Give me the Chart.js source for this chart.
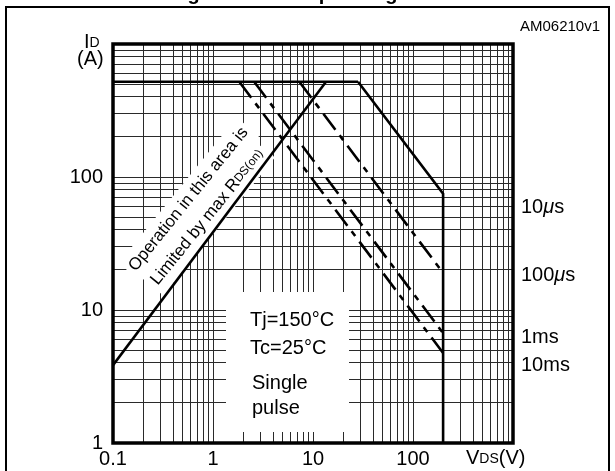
<!DOCTYPE html>
<html>
<head>
<meta charset="utf-8">
<script src="https://cdn.jsdelivr.net/npm/chart.js@4/dist/chart.umd.min.js"></script>
<style>
  html, body { margin: 0; padding: 0; background: #fff; }
  #wrap { position: relative; width: 615px; height: 471px; }
</style>
</head>
<body>
<div id="wrap"><canvas id="soa" width="615" height="471"></canvas></div>
<script>
// Safe operating area: drain current vs drain-source voltage, log-log.

// Axis decades and the minor steps inside each decade (grid lines)
const xDecades = [0.1, 1, 10, 100];
const yDecades = [1, 10, 100];
const minorSteps = [1, 2, 3, 4, 5, 6, 7, 8, 9];
const xLabelValues = [0.1, 1, 10, 100];
const xLabelTexts = ['0.1', '1', '10', '100'];
const yLabelValues = [1, 10, 100];
const yLabelTexts = ['1', '10', '100'];

// Boundary lines (V, A)
const vRdsLimit = [0.1, 13.5];
const iRdsLimit = [3.85, 520];
const vCurrentLimit = [0.1, 28.2];
const iCurrentLimit = [520, 520];
const v10us = [28.2, 200, 200];
const i10us = [520, 75, 1];
const v100us = [7.3, 200];
const i100us = [520, 19];
const v1ms = [2.58, 200];
const i1ms = [520, 6.7];
const v10ms = [1.83, 200];
const i10ms = [520, 4.75];

const FONT = "'Liberation Sans', Arial, Helvetica, sans-serif";
Chart.defaults.font.family = FONT;
Chart.defaults.color = '#000';

function gridValues(decades, top) {
  const out = [];
  decades.forEach(d => minorSteps.forEach(m => out.push(+(d * m).toPrecision(6))));
  out.push(top);
  return out;
}
const xGrid = gridValues(xDecades, 1000);
const yGrid = gridValues(yDecades, 1000);

function labelFor(value, values, texts) {
  for (let k = 0; k < values.length; k++) {
    if (Math.abs(Math.log10(value) - Math.log10(values[k])) < 1e-6) return texts[k];
  }
  return '';
}

const DASH = [20, 7, 6, 7];
function line(vs, is, dash) {
  return {
    data: vs.map((v, k) => ({ x: v, y: is[k] })),
    showLine: true,
    borderColor: '#000',
    borderWidth: 2.6,
    borderDash: dash || [],
    pointRadius: 0,
    fill: false,
    tension: 0
  };
}

function drawSub(ctx, x, y, parts) {
  // parts: [text, size, italic, yShift]
  let cx = x;
  parts.forEach(p => {
    ctx.font = (p[2] ? 'italic ' : '') + p[1] + 'px ' + FONT;
    ctx.fillText(p[0], cx, y + (p[3] || 0));
    cx += ctx.measureText(p[0]).width;
  });
  return cx;
}

const decorations = {
  id: 'decorations',
  beforeDatasetsDraw(chart) {
    const ctx = chart.ctx;
    const xs = chart.scales.x, ys = chart.scales.y;
    ctx.save();
    // white panel for the test conditions
    ctx.fillStyle = '#fff';
    ctx.fillRect(226, 292, 123, 140);
    // rotated note along the R_DS(on) limit
    const ang = -51 * Math.PI / 180;
    const notes = [
      { x: xs.getPixelForValue(0.57), y: ys.getPixelForValue(68), parts: [['Operation in this area is', 17]] },
      { x: xs.getPixelForValue(0.88), y: ys.getPixelForValue(50), parts: [['Limited by max R', 17], ['DS(on)', 12, false, 0]] }
    ];
    // knockouts first, so both lines share one clean white band
    notes.forEach(n => {
      ctx.save();
      ctx.translate(n.x, n.y);
      ctx.rotate(ang);
      let w = 0;
      n.parts.forEach(p => { ctx.font = p[1] + 'px ' + FONT; w += ctx.measureText(p[0]).width; });
      n.w = w;
      ctx.fillStyle = '#fff';
      ctx.fillRect(-w / 2 - 4, -14, w + 8, 29);
      ctx.restore();
    });
    notes.forEach(n => {
      ctx.save();
      ctx.translate(n.x, n.y);
      ctx.rotate(ang);
      ctx.fillStyle = '#000';
      ctx.textBaseline = 'middle';
      ctx.textAlign = 'left';
      drawSub(ctx, -n.w / 2, 0, n.parts);
      ctx.restore();
    });
    // test-condition text
    ctx.fillStyle = '#000';
    ctx.textBaseline = 'middle';
    ctx.font = '20px ' + FONT;
    ctx.fillText('Tj=150°C', 250, 320);
    ctx.fillText('Tc=25°C', 250, 348);
    ctx.fillText('Single', 252, 383);
    ctx.fillText('pulse', 252, 408);
    ctx.restore();
  },
  afterDraw(chart) {
    const ctx = chart.ctx;
    const a = chart.chartArea;
    ctx.save();
    // plot frame
    ctx.strokeStyle = '#000';
    ctx.lineWidth = 3.5;
    ctx.strokeRect(a.left, a.top, a.right - a.left, a.bottom - a.top);
    // outer frame
    ctx.lineWidth = 2;
    ctx.beginPath();
    ctx.moveTo(6, 471); ctx.lineTo(6, 7); ctx.lineTo(609, 7); ctx.lineTo(609, 471);
    ctx.stroke();
    // caption, mostly above the page edge
    ctx.fillStyle = '#000';
    ctx.textAlign = 'center';
    ctx.textBaseline = 'alphabetic';
    ctx.font = 'bold 20px ' + FONT;
    ctx.fillText('Figure 2. Safe operating area', 307, 0);
    ctx.textAlign = 'left';
    ctx.textBaseline = 'middle';
    ctx.font = '15px ' + FONT;
    ctx.fillText('AM06210v1', 520, 27);
    // axis titles
    drawSub(ctx, 84, 42, [['I', 20], ['D', 14, false, 1]]);
    ctx.font = '20px ' + FONT;
    ctx.fillText('(A)', 77, 59);
    drawSub(ctx, 466, 458, [['V', 20], ['DS', 14, false, 1], ['(V)', 20]]);
    // pulse-width labels
    const lx = 521;
    drawSub(ctx, lx, 207, [['10', 20], ['\u03bc', 20, true], ['s', 20]]);
    drawSub(ctx, lx, 275, [['100', 20], ['\u03bc', 20, true], ['s', 20]]);
    drawSub(ctx, lx, 337, [['1ms', 20]]);
    drawSub(ctx, lx, 365, [['10ms', 20]]);
    ctx.restore();
  }
};

new Chart(document.getElementById('soa'), {
  type: 'scatter',
  data: {
    datasets: [
      line(vCurrentLimit, iCurrentLimit),
      line(vRdsLimit, iRdsLimit),
      line(v10us, i10us),
      line(v100us, i100us, DASH),
      line(v1ms, i1ms, DASH),
      line(v10ms, i10ms, DASH)
    ]
  },
  options: {
    responsive: false,
    animation: false,
    devicePixelRatio: 1,
    layout: { padding: { left: 0, right: 102, top: 44, bottom: 0 } },
    plugins: { legend: { display: false }, tooltip: { enabled: false } },
    scales: {
      x: {
        type: 'logarithmic',
        min: 0.1, max: 1000,
        afterBuildTicks: s => { s.ticks = xGrid.map(v => ({ value: v })); },
        afterFit: s => { s.height = 28; },
        border: { display: false },
        grid: { color: '#2a2a2a', lineWidth: 1, drawTicks: false },
        ticks: {
          autoSkip: false, maxRotation: 0, minRotation: 0, padding: 4,
          color: '#000', font: { size: 20 },
          callback: v => labelFor(v, xLabelValues, xLabelTexts)
        }
      },
      y: {
        type: 'logarithmic',
        min: 1, max: 1000,
        afterBuildTicks: s => { s.ticks = yGrid.map(v => ({ value: v })); },
        afterFit: s => { s.width = 113; },
        border: { display: false },
        grid: { color: '#2a2a2a', lineWidth: 1, drawTicks: false },
        ticks: {
          autoSkip: false, padding: 10,
          color: '#000', font: { size: 20 },
          callback: v => labelFor(v, yLabelValues, yLabelTexts)
        }
      }
    }
  },
  plugins: [decorations]
});
</script>
</body>
</html>
